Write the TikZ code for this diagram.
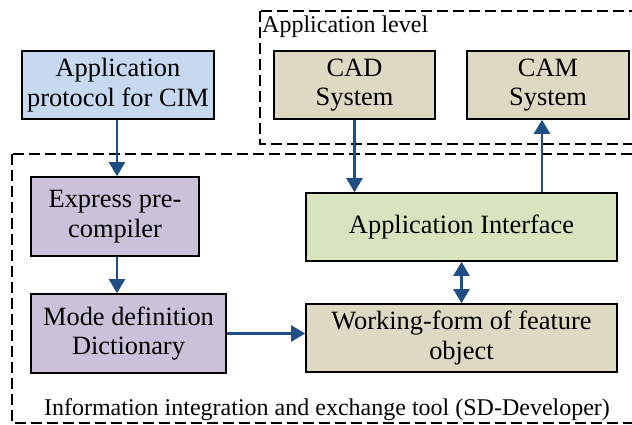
\documentclass[tikz,border=0pt]{standalone}
\usepackage{fontspec}
\setmainfont{Liberation Serif}
\usetikzlibrary{arrows.meta}
\definecolor{cblue}{HTML}{C6D9F1}
\definecolor{cpurple}{HTML}{CCC1DA}
\definecolor{ctan}{HTML}{DDD9C3}
\definecolor{cgreen}{HTML}{D7E4BD}
\definecolor{carrow}{HTML}{1F4E84}
\tikzset{
  box/.style={draw=black, line width=1.6pt, align=center, inner sep=0pt,
    font=\fontsize{26.4}{29.5}\selectfont},
  conn/.style={draw=carrow, line width=2.3pt, -{Triangle[length=14pt,width=16pt]}},
  dconn/.style={draw=carrow, line width=2.3pt, {Triangle[length=14pt,width=16pt]}-{Triangle[length=14pt,width=16pt]}},
  region/.style={draw=black, line width=1.8pt, dash pattern=on 11pt off 5pt},
  lbl/.style={font=\fontsize{24}{29}\selectfont, inner sep=0pt}
}
\begin{document}
\begin{tikzpicture}[x=1pt,y=-1pt]
\useasboundingbox (0,0) rectangle (632,425);
\clip (0,0) rectangle (632,425);
\fill[white] (0,0) rectangle (632,425);
% dashed regions
\draw[region] (260,11) rectangle (645,144);
\draw[region] (12,154) rectangle (645,423);
\node[lbl, anchor=base west] (applvl) at (262,33) {Application level};
\node[lbl, anchor=base] (tool) at (327,415) {Information integration and exchange tool (SD-Developer)};
% boxes
\node[box, fill=cblue, minimum width=192pt, minimum height=68pt] (proto) at (118,85) {Application\\protocol for CIM};
\node[box, fill=cpurple, minimum width=168pt, minimum height=79pt] (expr) at (115,216.5) {Express pre-\\compiler};
\node[box, fill=cpurple, minimum width=195pt, minimum height=79pt] (mode) at (128.5,333.5) {Mode definition\\Dictionary};
\node[box, fill=ctan, minimum width=161pt, minimum height=68pt] (cad) at (354.5,85) {CAD\\System};
\node[box, fill=ctan, minimum width=162pt, minimum height=68pt] (cam) at (548,85) {CAM\\System};
\node[box, fill=cgreen, minimum width=311pt, minimum height=68pt] (ai) at (461.5,227) {Application Interface};
\node[box, fill=ctan, minimum width=311pt, minimum height=68pt] (wf) at (461.5,338) {Working-form of feature\\object};
% connectors
\coordinate (px) at (117,0);
\coordinate (camx) at (542,0);
\draw[conn] (proto.south -| px) -- (expr.north -| px);
\draw[conn] (expr.south -| px) -- (mode.north -| px);
\draw[conn] (mode.east) -- (mode.east -| wf.west);
\draw[conn] (cad.south) -- (cad.south |- ai.north);
\draw[conn] (ai.north -| camx) -- (cam.south -| camx);
\draw[dconn] (ai.south) -- (wf.north);
\end{tikzpicture}
\end{document}
